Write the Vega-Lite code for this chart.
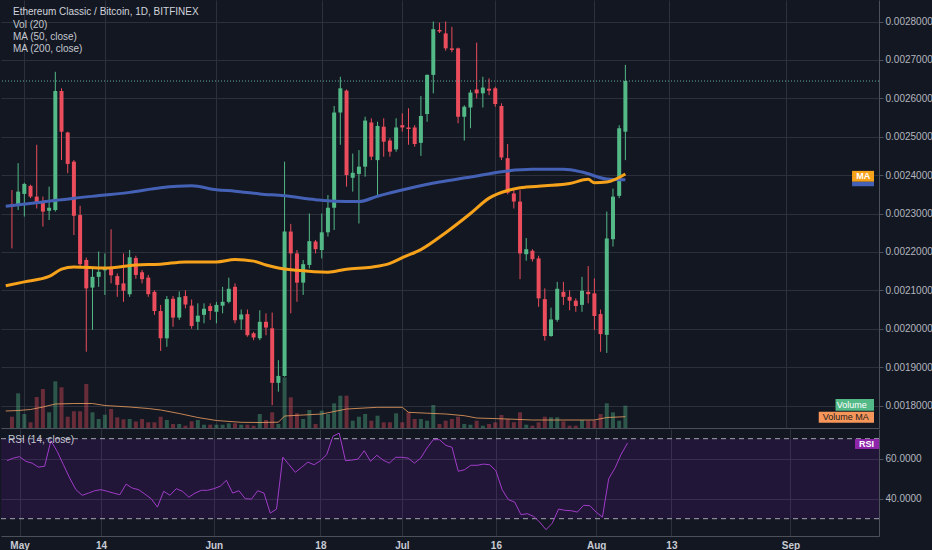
{
  "$schema": "https://vega.github.io/schema/vega-lite/v6.json",
  "background": "#131722",
  "padding": 0,
  "spacing": 1,
  "config": {
    "font": "Liberation Sans",
    "view": {"stroke": null},
    "axis": {
      "labelColor": "#b2b5be",
      "labelFont": "Liberation Sans",
      "labelFontSize": 10,
      "gridColor": "#2c303b",
      "domainColor": "#4c505b",
      "tickColor": "#4c505b"
    }
  },
  "datasets": {
    "candles": [
      {"date": "2018-04-29", "open": 0.002324, "high": 0.002361, "low": 0.002209, "close": 0.002317, "volume": 113, "rsi": 59.0},
      {"date": "2018-04-30", "open": 0.002320, "high": 0.002431, "low": 0.002309, "close": 0.002357, "volume": 347, "rsi": 60.3},
      {"date": "2018-05-01", "open": 0.002351, "high": 0.002380, "low": 0.002292, "close": 0.002377, "volume": 140, "rsi": 61.0},
      {"date": "2018-05-02", "open": 0.002372, "high": 0.002375, "low": 0.002340, "close": 0.002344, "volume": 57, "rsi": 58.7},
      {"date": "2018-05-03", "open": 0.002344, "high": 0.002479, "low": 0.002313, "close": 0.002327, "volume": 310, "rsi": 57.8},
      {"date": "2018-05-04", "open": 0.002331, "high": 0.002344, "low": 0.002266, "close": 0.002305, "volume": 390, "rsi": 55.8},
      {"date": "2018-05-05", "open": 0.002307, "high": 0.002370, "low": 0.002283, "close": 0.002315, "volume": 157, "rsi": 56.2},
      {"date": "2018-05-06", "open": 0.002309, "high": 0.002669, "low": 0.002305, "close": 0.002619, "volume": 467, "rsi": 69.0},
      {"date": "2018-05-07", "open": 0.002619, "high": 0.002626, "low": 0.002439, "close": 0.002513, "volume": 407, "rsi": 63.7},
      {"date": "2018-05-08", "open": 0.002511, "high": 0.002513, "low": 0.002405, "close": 0.002429, "volume": 113, "rsi": 57.0},
      {"date": "2018-05-09", "open": 0.002435, "high": 0.002439, "low": 0.002244, "close": 0.002294, "volume": 167, "rsi": 50.3},
      {"date": "2018-05-10", "open": 0.002296, "high": 0.002320, "low": 0.002160, "close": 0.002168, "volume": 167, "rsi": 44.5},
      {"date": "2018-05-11", "open": 0.002179, "high": 0.002185, "low": 0.001940, "close": 0.002105, "volume": 440, "rsi": 41.7},
      {"date": "2018-05-12", "open": 0.002107, "high": 0.002161, "low": 0.001997, "close": 0.002135, "volume": 157, "rsi": 42.8},
      {"date": "2018-05-13", "open": 0.002135, "high": 0.002201, "low": 0.002109, "close": 0.002148, "volume": 90, "rsi": 44.0},
      {"date": "2018-05-14", "open": 0.002152, "high": 0.002196, "low": 0.002088, "close": 0.002160, "volume": 133, "rsi": 44.5},
      {"date": "2018-05-15", "open": 0.002157, "high": 0.002259, "low": 0.002118, "close": 0.002139, "volume": 190, "rsi": 43.7},
      {"date": "2018-05-16", "open": 0.002137, "high": 0.002144, "low": 0.002083, "close": 0.002114, "volume": 107, "rsi": 42.8},
      {"date": "2018-05-17", "open": 0.002118, "high": 0.002196, "low": 0.002070, "close": 0.002099, "volume": 87, "rsi": 42.0},
      {"date": "2018-05-18", "open": 0.002090, "high": 0.002205, "low": 0.002083, "close": 0.002186, "volume": 90, "rsi": 47.3},
      {"date": "2018-05-19", "open": 0.002184, "high": 0.002190, "low": 0.002130, "close": 0.002140, "volume": 65, "rsi": 45.3},
      {"date": "2018-05-20", "open": 0.002147, "high": 0.002153, "low": 0.002118, "close": 0.002129, "volume": 90, "rsi": 44.5},
      {"date": "2018-05-21", "open": 0.002133, "high": 0.002140, "low": 0.002083, "close": 0.002090, "volume": 57, "rsi": 42.3},
      {"date": "2018-05-22", "open": 0.002096, "high": 0.002100, "low": 0.002036, "close": 0.002046, "volume": 57, "rsi": 40.0},
      {"date": "2018-05-23", "open": 0.002046, "high": 0.002062, "low": 0.001942, "close": 0.001975, "volume": 113, "rsi": 35.8},
      {"date": "2018-05-24", "open": 0.001975, "high": 0.002085, "low": 0.001953, "close": 0.002077, "volume": 80, "rsi": 43.7},
      {"date": "2018-05-25", "open": 0.002078, "high": 0.002085, "low": 0.002005, "close": 0.002029, "volume": 40, "rsi": 41.7},
      {"date": "2018-05-26", "open": 0.002029, "high": 0.002097, "low": 0.002023, "close": 0.002082, "volume": 40, "rsi": 45.0},
      {"date": "2018-05-27", "open": 0.002085, "high": 0.002100, "low": 0.002053, "close": 0.002063, "volume": 23, "rsi": 43.7},
      {"date": "2018-05-28", "open": 0.002060, "high": 0.002076, "low": 0.002000, "close": 0.002007, "volume": 67, "rsi": 40.8},
      {"date": "2018-05-29", "open": 0.002018, "high": 0.002066, "low": 0.001997, "close": 0.002034, "volume": 80, "rsi": 42.8},
      {"date": "2018-05-30", "open": 0.002036, "high": 0.002066, "low": 0.002014, "close": 0.002052, "volume": 33, "rsi": 44.2},
      {"date": "2018-05-31", "open": 0.002059, "high": 0.002066, "low": 0.002023, "close": 0.002046, "volume": 33, "rsi": 44.2},
      {"date": "2018-06-01", "open": 0.002044, "high": 0.002070, "low": 0.002014, "close": 0.002062, "volume": 33, "rsi": 45.0},
      {"date": "2018-06-02", "open": 0.002060, "high": 0.002109, "low": 0.002040, "close": 0.002070, "volume": 33, "rsi": 46.2},
      {"date": "2018-06-03", "open": 0.002070, "high": 0.002133, "low": 0.002066, "close": 0.002104, "volume": 47, "rsi": 49.2},
      {"date": "2018-06-04", "open": 0.002109, "high": 0.002118, "low": 0.002014, "close": 0.002022, "volume": 47, "rsi": 42.8},
      {"date": "2018-06-05", "open": 0.002024, "high": 0.002050, "low": 0.001997, "close": 0.002037, "volume": 33, "rsi": 44.0},
      {"date": "2018-06-06", "open": 0.002038, "high": 0.002050, "low": 0.001979, "close": 0.001983, "volume": 33, "rsi": 40.0},
      {"date": "2018-06-07", "open": 0.001988, "high": 0.001992, "low": 0.001970, "close": 0.001977, "volume": 23, "rsi": 39.8},
      {"date": "2018-06-08", "open": 0.001975, "high": 0.002048, "low": 0.001970, "close": 0.002018, "volume": 140, "rsi": 44.0},
      {"date": "2018-06-09", "open": 0.002018, "high": 0.002040, "low": 0.001983, "close": 0.002003, "volume": 80, "rsi": 42.8},
      {"date": "2018-06-10", "open": 0.002001, "high": 0.002042, "low": 0.001801, "close": 0.001859, "volume": 157, "rsi": 32.8},
      {"date": "2018-06-11", "open": 0.001859, "high": 0.001918, "low": 0.001836, "close": 0.001877, "volume": 40, "rsi": 34.8},
      {"date": "2018-06-12", "open": 0.001877, "high": 0.002435, "low": 0.001875, "close": 0.002253, "volume": 507, "rsi": 60.8},
      {"date": "2018-06-13", "open": 0.002253, "high": 0.002273, "low": 0.002040, "close": 0.002196, "volume": 307, "rsi": 57.0},
      {"date": "2018-06-14", "open": 0.002196, "high": 0.002205, "low": 0.002070, "close": 0.002120, "volume": 147, "rsi": 53.2},
      {"date": "2018-06-15", "open": 0.002120, "high": 0.002179, "low": 0.002088, "close": 0.002168, "volume": 90, "rsi": 55.7},
      {"date": "2018-06-16", "open": 0.002166, "high": 0.002300, "low": 0.002157, "close": 0.002228, "volume": 180, "rsi": 58.3},
      {"date": "2018-06-17", "open": 0.002227, "high": 0.002231, "low": 0.002196, "close": 0.002207, "volume": 40, "rsi": 57.0},
      {"date": "2018-06-18", "open": 0.002205, "high": 0.002300, "low": 0.002183, "close": 0.002251, "volume": 173, "rsi": 59.0},
      {"date": "2018-06-19", "open": 0.002251, "high": 0.002348, "low": 0.002240, "close": 0.002315, "volume": 140, "rsi": 62.0},
      {"date": "2018-06-20", "open": 0.002315, "high": 0.002580, "low": 0.002257, "close": 0.002563, "volume": 247, "rsi": 71.2},
      {"date": "2018-06-21", "open": 0.002563, "high": 0.002656, "low": 0.002479, "close": 0.002626, "volume": 323, "rsi": 72.8},
      {"date": "2018-06-22", "open": 0.002620, "high": 0.002623, "low": 0.002370, "close": 0.002400, "volume": 323, "rsi": 59.0},
      {"date": "2018-06-23", "open": 0.002393, "high": 0.002456, "low": 0.002357, "close": 0.002406, "volume": 73, "rsi": 59.3},
      {"date": "2018-06-24", "open": 0.002403, "high": 0.002465, "low": 0.002274, "close": 0.002422, "volume": 113, "rsi": 59.8},
      {"date": "2018-06-25", "open": 0.002422, "high": 0.002552, "low": 0.002396, "close": 0.002542, "volume": 140, "rsi": 64.0},
      {"date": "2018-06-26", "open": 0.002537, "high": 0.002548, "low": 0.002439, "close": 0.002448, "volume": 73, "rsi": 58.7},
      {"date": "2018-06-27", "open": 0.002439, "high": 0.002539, "low": 0.002348, "close": 0.002528, "volume": 123, "rsi": 61.7},
      {"date": "2018-06-28", "open": 0.002526, "high": 0.002548, "low": 0.002448, "close": 0.002487, "volume": 57, "rsi": 59.3},
      {"date": "2018-06-29", "open": 0.002490, "high": 0.002496, "low": 0.002448, "close": 0.002461, "volume": 57, "rsi": 57.8},
      {"date": "2018-06-30", "open": 0.002467, "high": 0.002548, "low": 0.002461, "close": 0.002524, "volume": 147, "rsi": 60.7},
      {"date": "2018-07-01", "open": 0.002530, "high": 0.002561, "low": 0.002513, "close": 0.002524, "volume": 57, "rsi": 60.7},
      {"date": "2018-07-02", "open": 0.002524, "high": 0.002574, "low": 0.002479, "close": 0.002520, "volume": 157, "rsi": 60.3},
      {"date": "2018-07-03", "open": 0.002524, "high": 0.002530, "low": 0.002474, "close": 0.002481, "volume": 90, "rsi": 57.8},
      {"date": "2018-07-04", "open": 0.002484, "high": 0.002606, "low": 0.002450, "close": 0.002554, "volume": 90, "rsi": 60.3},
      {"date": "2018-07-05", "open": 0.002559, "high": 0.002662, "low": 0.002539, "close": 0.002661, "volume": 73, "rsi": 65.3},
      {"date": "2018-07-06", "open": 0.002661, "high": 0.002800, "low": 0.002613, "close": 0.002780, "volume": 230, "rsi": 69.5},
      {"date": "2018-07-07", "open": 0.002778, "high": 0.002797, "low": 0.002770, "close": 0.002774, "volume": 40, "rsi": 69.5},
      {"date": "2018-07-08", "open": 0.002769, "high": 0.002800, "low": 0.002724, "close": 0.002730, "volume": 73, "rsi": 66.7},
      {"date": "2018-07-09", "open": 0.002730, "high": 0.002786, "low": 0.002720, "close": 0.002726, "volume": 90, "rsi": 65.7},
      {"date": "2018-07-10", "open": 0.002730, "high": 0.002732, "low": 0.002535, "close": 0.002552, "volume": 113, "rsi": 53.7},
      {"date": "2018-07-11", "open": 0.002552, "high": 0.002582, "low": 0.002490, "close": 0.002578, "volume": 40, "rsi": 54.5},
      {"date": "2018-07-12", "open": 0.002576, "high": 0.002622, "low": 0.002522, "close": 0.002615, "volume": 33, "rsi": 56.7},
      {"date": "2018-07-13", "open": 0.002623, "high": 0.002745, "low": 0.002600, "close": 0.002613, "volume": 73, "rsi": 56.7},
      {"date": "2018-07-14", "open": 0.002613, "high": 0.002656, "low": 0.002576, "close": 0.002628, "volume": 23, "rsi": 57.3},
      {"date": "2018-07-15", "open": 0.002625, "high": 0.002652, "low": 0.002608, "close": 0.002620, "volume": 40, "rsi": 57.0},
      {"date": "2018-07-16", "open": 0.002626, "high": 0.002630, "low": 0.002578, "close": 0.002585, "volume": 57, "rsi": 54.0},
      {"date": "2018-07-17", "open": 0.002580, "high": 0.002587, "low": 0.002439, "close": 0.002446, "volume": 130, "rsi": 44.5},
      {"date": "2018-07-18", "open": 0.002444, "high": 0.002481, "low": 0.002350, "close": 0.002354, "volume": 90, "rsi": 39.5},
      {"date": "2018-07-19", "open": 0.002352, "high": 0.002361, "low": 0.002313, "close": 0.002331, "volume": 57, "rsi": 38.3},
      {"date": "2018-07-20", "open": 0.002331, "high": 0.002361, "low": 0.002129, "close": 0.002196, "volume": 157, "rsi": 32.0},
      {"date": "2018-07-21", "open": 0.002194, "high": 0.002236, "low": 0.002177, "close": 0.002207, "volume": 33, "rsi": 32.5},
      {"date": "2018-07-22", "open": 0.002203, "high": 0.002207, "low": 0.002175, "close": 0.002181, "volume": 23, "rsi": 31.2},
      {"date": "2018-07-23", "open": 0.002183, "high": 0.002190, "low": 0.002057, "close": 0.002079, "volume": 57, "rsi": 28.3},
      {"date": "2018-07-24", "open": 0.002077, "high": 0.002105, "low": 0.001969, "close": 0.001981, "volume": 113, "rsi": 24.5},
      {"date": "2018-07-25", "open": 0.001981, "high": 0.002055, "low": 0.001979, "close": 0.002024, "volume": 107, "rsi": 27.8},
      {"date": "2018-07-26", "open": 0.002023, "high": 0.002122, "low": 0.002018, "close": 0.002104, "volume": 107, "rsi": 34.8},
      {"date": "2018-07-27", "open": 0.002096, "high": 0.002122, "low": 0.002062, "close": 0.002083, "volume": 67, "rsi": 34.2},
      {"date": "2018-07-28", "open": 0.002083, "high": 0.002100, "low": 0.002048, "close": 0.002073, "volume": 23, "rsi": 34.0},
      {"date": "2018-07-29", "open": 0.002073, "high": 0.002079, "low": 0.002044, "close": 0.002059, "volume": 23, "rsi": 33.3},
      {"date": "2018-07-30", "open": 0.002062, "high": 0.002135, "low": 0.002044, "close": 0.002099, "volume": 80, "rsi": 36.7},
      {"date": "2018-07-31", "open": 0.002096, "high": 0.002163, "low": 0.002066, "close": 0.002090, "volume": 73, "rsi": 36.5},
      {"date": "2018-08-01", "open": 0.002092, "high": 0.002131, "low": 0.001997, "close": 0.002033, "volume": 73, "rsi": 33.3},
      {"date": "2018-08-02", "open": 0.002038, "high": 0.002050, "low": 0.001940, "close": 0.001986, "volume": 140, "rsi": 30.8},
      {"date": "2018-08-03", "open": 0.001984, "high": 0.002305, "low": 0.001937, "close": 0.002235, "volume": 247, "rsi": 50.0},
      {"date": "2018-08-04", "open": 0.002233, "high": 0.002365, "low": 0.002214, "close": 0.002344, "volume": 157, "rsi": 55.3},
      {"date": "2018-08-05", "open": 0.002346, "high": 0.002530, "low": 0.002340, "close": 0.002522, "volume": 73, "rsi": 62.3},
      {"date": "2018-08-06", "open": 0.002513, "high": 0.002687, "low": 0.002439, "close": 0.002645, "volume": 223, "rsi": 67.8}
    ],
    "ma50": [
      {"date": "2018-04-28", "ma": 0.002112},
      {"date": "2018-05-01", "ma": 0.002122},
      {"date": "2018-05-05", "ma": 0.002136},
      {"date": "2018-05-07", "ma": 0.002155},
      {"date": "2018-05-09", "ma": 0.002161},
      {"date": "2018-05-14", "ma": 0.002158},
      {"date": "2018-05-19", "ma": 0.002166},
      {"date": "2018-05-23", "ma": 0.002168},
      {"date": "2018-05-27", "ma": 0.002174},
      {"date": "2018-06-01", "ma": 0.002174},
      {"date": "2018-06-04", "ma": 0.002180},
      {"date": "2018-06-07", "ma": 0.002176},
      {"date": "2018-06-09", "ma": 0.002166},
      {"date": "2018-06-11", "ma": 0.002158},
      {"date": "2018-06-14", "ma": 0.002152},
      {"date": "2018-06-19", "ma": 0.002147},
      {"date": "2018-06-22", "ma": 0.002155},
      {"date": "2018-06-26", "ma": 0.002160},
      {"date": "2018-06-29", "ma": 0.002170},
      {"date": "2018-07-01", "ma": 0.002185},
      {"date": "2018-07-04", "ma": 0.002206},
      {"date": "2018-07-08", "ma": 0.002250},
      {"date": "2018-07-12", "ma": 0.002300},
      {"date": "2018-07-15", "ma": 0.002340},
      {"date": "2018-07-18", "ma": 0.002360},
      {"date": "2018-07-20", "ma": 0.002367},
      {"date": "2018-07-24", "ma": 0.002372},
      {"date": "2018-07-28", "ma": 0.002378},
      {"date": "2018-07-31", "ma": 0.002389},
      {"date": "2018-08-01", "ma": 0.002380},
      {"date": "2018-08-03", "ma": 0.002382},
      {"date": "2018-08-06", "ma": 0.002403}
    ],
    "ma200": [
      {"date": "2018-04-28", "ma": 0.002319},
      {"date": "2018-05-04", "ma": 0.002330},
      {"date": "2018-05-09", "ma": 0.002340},
      {"date": "2018-05-14", "ma": 0.002348},
      {"date": "2018-05-18", "ma": 0.002355},
      {"date": "2018-05-23", "ma": 0.002367},
      {"date": "2018-05-28", "ma": 0.002372},
      {"date": "2018-06-01", "ma": 0.002362},
      {"date": "2018-06-04", "ma": 0.002358},
      {"date": "2018-06-08", "ma": 0.002351},
      {"date": "2018-06-12", "ma": 0.002346},
      {"date": "2018-06-17", "ma": 0.002336},
      {"date": "2018-06-20", "ma": 0.002332},
      {"date": "2018-06-24", "ma": 0.002331},
      {"date": "2018-06-27", "ma": 0.002345},
      {"date": "2018-07-02", "ma": 0.002365},
      {"date": "2018-07-07", "ma": 0.002382},
      {"date": "2018-07-12", "ma": 0.002395},
      {"date": "2018-07-17", "ma": 0.002409},
      {"date": "2018-07-22", "ma": 0.002415},
      {"date": "2018-07-27", "ma": 0.002415},
      {"date": "2018-07-30", "ma": 0.002408},
      {"date": "2018-08-03", "ma": 0.002390},
      {"date": "2018-08-06", "ma": 0.002388}
    ],
    "volma": [
      {"date": "2018-04-28", "volume": 170},
      {"date": "2018-04-30", "volume": 175},
      {"date": "2018-05-02", "volume": 185},
      {"date": "2018-05-04", "volume": 210},
      {"date": "2018-05-06", "volume": 240},
      {"date": "2018-05-09", "volume": 245},
      {"date": "2018-05-12", "volume": 245},
      {"date": "2018-05-14", "volume": 225},
      {"date": "2018-05-18", "volume": 210},
      {"date": "2018-05-21", "volume": 195},
      {"date": "2018-05-23", "volume": 180},
      {"date": "2018-05-26", "volume": 145},
      {"date": "2018-05-29", "volume": 105},
      {"date": "2018-06-01", "volume": 75},
      {"date": "2018-06-05", "volume": 57},
      {"date": "2018-06-08", "volume": 55},
      {"date": "2018-06-11", "volume": 58},
      {"date": "2018-06-12", "volume": 120},
      {"date": "2018-06-15", "volume": 130},
      {"date": "2018-06-18", "volume": 140},
      {"date": "2018-06-22", "volume": 190},
      {"date": "2018-06-27", "volume": 207},
      {"date": "2018-07-01", "volume": 207},
      {"date": "2018-07-02", "volume": 157},
      {"date": "2018-07-05", "volume": 148},
      {"date": "2018-07-08", "volume": 140},
      {"date": "2018-07-11", "volume": 123},
      {"date": "2018-07-13", "volume": 100},
      {"date": "2018-07-18", "volume": 90},
      {"date": "2018-07-22", "volume": 80},
      {"date": "2018-07-27", "volume": 80},
      {"date": "2018-08-01", "volume": 80},
      {"date": "2018-08-03", "volume": 105},
      {"date": "2018-08-06", "volume": 113}
    ]
  },
  "vconcat": [
    {
      "width": 878,
      "height": 428,
      "resolve": {"scale": {"y": "independent"}},
      "layer": [
        {
          "layer": [
            {
              "data": {"name": "candles"},
              "mark": {"type": "bar", "width": 4, "opacity": 0.4},
              "encoding": {
                "x": {
                  "field": "date", "type": "temporal",
                  "scale": {"type": "utc", "domain": [{"year": 2018, "month": 4, "date": 28, "hours": 1, "utc": true}, {"year": 2018, "month": 9, "date": 15, "hours": 3, "utc": true}]},
                  "axis": {
                    "values": [
                      {"year": 2018, "month": 5, "date": 1, "utc": true},
                      {"year": 2018, "month": 5, "date": 14, "utc": true},
                      {"year": 2018, "month": 6, "date": 1, "utc": true},
                      {"year": 2018, "month": 6, "date": 18, "utc": true},
                      {"year": 2018, "month": 7, "date": 1, "utc": true},
                      {"year": 2018, "month": 7, "date": 16, "utc": true},
                      {"year": 2018, "month": 8, "date": 1, "utc": true},
                      {"year": 2018, "month": 8, "date": 13, "utc": true},
                      {"year": 2018, "month": 9, "date": 1, "utc": true}
                    ],
                    "grid": true, "labels": false, "ticks": false, "domain": true, "title": null
                  }
                },
                "y": {"field": "volume", "type": "quantitative", "scale": {"domain": [0, 4280], "nice": false}, "axis": null},
                "color": {"condition": {"test": "datum.close >= datum.open", "value": "#53b987"}, "value": "#eb4d5c"}
              }
            },
            {
              "data": {"name": "volma"},
              "mark": {"type": "line", "color": "#f0a060", "strokeWidth": 1, "opacity": 0.8, "clip": true},
              "encoding": {
                "x": {"field": "date", "type": "temporal"},
                "y": {"field": "volume", "type": "quantitative", "axis": null}
              }
            }
          ]
        },
        {
          "layer": [
            {
              "data": {"name": "candles"},
              "mark": {"type": "rule", "strokeWidth": 1},
              "encoding": {
                "x": {"field": "date", "type": "temporal"},
                "y": {
                  "field": "low", "type": "quantitative",
                  "scale": {"domain": [0.00174141, 0.00285599], "nice": false, "zero": false},
                  "axis": {
                    "orient": "right", "title": null, "grid": true, "format": ".7f",
                    "values": [0.0018, 0.0019, 0.002, 0.0021, 0.0022, 0.0023, 0.0024, 0.0025, 0.0026, 0.0027, 0.0028],
                    "tickSize": 4, "labelPadding": 2, "domain": true
                  }
                },
                "y2": {"field": "high"},
                "color": {"condition": {"test": "datum.close >= datum.open", "value": "#53b987"}, "value": "#eb4d5c"}
              }
            },
            {
              "data": {"name": "candles"},
              "mark": {"type": "bar", "width": 4},
              "encoding": {
                "x": {"field": "date", "type": "temporal"},
                "y": {"field": "open", "type": "quantitative"},
                "y2": {"field": "close"},
                "color": {"condition": {"test": "datum.close >= datum.open", "value": "#53b987"}, "value": "#eb4d5c"}
              }
            },
            {
              "data": {"values": [{}]},
              "mark": {"type": "rule", "color": "#5fae9c", "strokeWidth": 1, "strokeDash": [1, 2]},
              "encoding": {"y": {"datum": 0.002645, "type": "quantitative"}}
            },
            {
              "data": {"name": "ma200"},
              "mark": {"type": "line", "color": "#4461b6", "strokeWidth": 3, "interpolate": "monotone", "clip": true},
              "encoding": {
                "x": {"field": "date", "type": "temporal"},
                "y": {"field": "ma", "type": "quantitative"}
              }
            },
            {
              "data": {"name": "ma50"},
              "mark": {"type": "line", "color": "#f7a21b", "strokeWidth": 3, "interpolate": "monotone", "clip": true},
              "encoding": {
                "x": {"field": "date", "type": "temporal"},
                "y": {"field": "ma", "type": "quantitative"}
              }
            },
            {
              "data": {"values": [{}]},
              "mark": {"type": "rect", "color": "#4461b6"},
              "encoding": {
                "x": {"datum": {"year": 2018, "month": 9, "date": 11, "hours": 14, "utc": true}, "type": "temporal"},
                "x2": {"datum": {"year": 2018, "month": 9, "date": 15, "hours": 3, "utc": true}},
                "y": {"datum": 0.002371, "type": "quantitative"},
                "y2": {"datum": 0.002383}
              }
            },
            {
              "data": {"values": [{}]},
              "mark": {"type": "rect", "color": "#f7a21b"},
              "encoding": {
                "x": {"datum": {"year": 2018, "month": 9, "date": 11, "hours": 14, "utc": true}, "type": "temporal"},
                "x2": {"datum": {"year": 2018, "month": 9, "date": 15, "hours": 3, "utc": true}},
                "y": {"datum": 0.002383, "type": "quantitative"},
                "y2": {"datum": 0.002411}
              }
            },
            {
              "data": {"values": [{}]},
              "mark": {"type": "text", "text": "MA", "color": "#ffffff", "fontSize": 9, "fontWeight": "bold", "align": "center", "baseline": "middle"},
              "encoding": {
                "x": {"datum": {"year": 2018, "month": 9, "date": 13, "hours": 9, "utc": true}, "type": "temporal"},
                "y": {"datum": 0.0023965, "type": "quantitative"}
              }
            },
            {
              "data": {"values": [{}]},
              "mark": {"type": "rect", "color": "#53b987"},
              "encoding": {
                "x": {"datum": {"year": 2018, "month": 9, "date": 8, "hours": 22, "utc": true}, "type": "temporal"},
                "x2": {"datum": {"year": 2018, "month": 9, "date": 15, "hours": 3, "utc": true}},
                "y": {"datum": 0.0017865, "type": "quantitative"},
                "y2": {"datum": 0.001817}
              }
            },
            {
              "data": {"values": [{}]},
              "mark": {"type": "text", "text": "Volume", "color": "#ffffff", "fontSize": 9, "align": "center", "baseline": "middle"},
              "encoding": {
                "x": {"datum": {"year": 2018, "month": 9, "date": 11, "hours": 13, "utc": true}, "type": "temporal"},
                "y": {"datum": 0.0018018, "type": "quantitative"}
              }
            },
            {
              "data": {"values": [{}]},
              "mark": {"type": "rect", "color": "#f7965a"},
              "encoding": {
                "x": {"datum": {"year": 2018, "month": 9, "date": 6, "hours": 5, "utc": true}, "type": "temporal"},
                "x2": {"datum": {"year": 2018, "month": 9, "date": 15, "hours": 3, "utc": true}},
                "y": {"datum": 0.001755, "type": "quantitative"},
                "y2": {"datum": 0.0017839}
              }
            },
            {
              "data": {"values": [{}]},
              "mark": {"type": "text", "text": "Volume MA", "color": "#1a1a1a", "fontSize": 9, "align": "center", "baseline": "middle"},
              "encoding": {
                "x": {"datum": {"year": 2018, "month": 9, "date": 10, "hours": 14, "utc": true}, "type": "temporal"},
                "y": {"datum": 0.0017695, "type": "quantitative"}
              }
            },
            {
              "data": {"values": [{}]},
              "mark": {"type": "text", "text": "Ethereum Classic / Bitcoin, 1D, BITFINEX", "color": "#d1d4dc", "fontSize": 10, "align": "left", "baseline": "middle"},
              "encoding": {
                "x": {"datum": {"year": 2018, "month": 4, "date": 29, "hours": 4, "utc": true}, "type": "temporal"},
                "y": {"datum": 0.0028247, "type": "quantitative"}
              }
            },
            {
              "data": {"values": [{}]},
              "mark": {"type": "text", "text": ["Vol (20)", "MA (50, close)", "MA (200, close)"], "color": "#c4c7cf", "fontSize": 10, "lineHeight": 12.3, "align": "left", "baseline": "top"},
              "encoding": {
                "x": {"datum": {"year": 2018, "month": 4, "date": 29, "hours": 4, "utc": true}, "type": "temporal"},
                "y": {"datum": 0.0028049, "type": "quantitative"}
              }
            }
          ]
        }
      ]
    },
    {
      "width": 878,
      "height": 107,
      "layer": [
        {
          "data": {"values": [{}]},
          "mark": {"type": "rect", "color": "#9915ff", "opacity": 0.1},
          "encoding": {
            "x": {
              "datum": {"year": 2018, "month": 4, "date": 28, "hours": 1, "utc": true}, "type": "temporal",
              "scale": {"type": "utc", "domain": [{"year": 2018, "month": 4, "date": 28, "hours": 1, "utc": true}, {"year": 2018, "month": 9, "date": 15, "hours": 3, "utc": true}]},
              "axis": {
                "values": [
                  {"year": 2018, "month": 5, "date": 1, "utc": true},
                  {"year": 2018, "month": 5, "date": 14, "utc": true},
                  {"year": 2018, "month": 6, "date": 1, "utc": true},
                  {"year": 2018, "month": 6, "date": 18, "utc": true},
                  {"year": 2018, "month": 7, "date": 1, "utc": true},
                  {"year": 2018, "month": 7, "date": 16, "utc": true},
                  {"year": 2018, "month": 8, "date": 1, "utc": true},
                  {"year": 2018, "month": 8, "date": 13, "utc": true},
                  {"year": 2018, "month": 9, "date": 1, "utc": true}
                ],
                "labelExpr": "utcdate(datum.value) == 1 ? utcFormat(datum.value, '%b') : utcFormat(datum.value, '%-d')",
                "grid": true, "ticks": false, "domain": true, "labelPadding": 4, "labelColor": "#c8cbd3", "labelFontWeight": "bold", "labelFlush": false, "title": null
              }
            },
            "x2": {"datum": {"year": 2018, "month": 9, "date": 15, "hours": 3, "utc": true}},
            "y": {
              "datum": 30, "type": "quantitative",
              "scale": {"domain": [21.35, 74.85], "nice": false, "zero": false},
              "axis": {"orient": "right", "title": null, "grid": true, "values": [40, 60], "format": ".4f", "tickSize": 4, "labelPadding": 2, "domain": true}
            },
            "y2": {"datum": 70}
          }
        },
        {
          "data": {"values": [{"level": 30}, {"level": 70}]},
          "mark": {"type": "rule", "color": "#a3a6af", "strokeWidth": 1, "strokeDash": [5, 4]},
          "encoding": {"y": {"field": "level", "type": "quantitative"}}
        },
        {
          "data": {"name": "candles"},
          "mark": {"type": "line", "color": "#a03cc8", "strokeWidth": 1},
          "encoding": {
            "x": {"field": "date", "type": "temporal"},
            "y": {"field": "rsi", "type": "quantitative"}
          }
        },
        {
          "data": {"values": [{}]},
          "mark": {"type": "rect", "color": "#8e24aa"},
          "encoding": {
            "x": {"datum": {"year": 2018, "month": 9, "date": 11, "hours": 7, "utc": true}, "type": "temporal"},
            "x2": {"datum": {"year": 2018, "month": 9, "date": 15, "hours": 3, "utc": true}},
            "y": {"datum": 64.85, "type": "quantitative"},
            "y2": {"datum": 69.85}
          }
        },
        {
          "data": {"values": [{}]},
          "mark": {"type": "text", "text": "RSI", "color": "#ffffff", "fontSize": 9, "fontWeight": "bold", "align": "center", "baseline": "middle"},
          "encoding": {
            "x": {"datum": {"year": 2018, "month": 9, "date": 13, "hours": 3, "utc": true}, "type": "temporal"},
            "y": {"datum": 67.35, "type": "quantitative"}
          }
        },
        {
          "data": {"values": [{}]},
          "mark": {"type": "text", "text": "RSI (14, close)", "color": "#c4c7cf", "fontSize": 10, "align": "left", "baseline": "middle"},
          "encoding": {
            "x": {"datum": {"year": 2018, "month": 4, "date": 29, "hours": 4, "utc": true}, "type": "temporal"},
            "y": {"datum": 69.35, "type": "quantitative"}
          }
        }
      ]
    }
  ]
}
